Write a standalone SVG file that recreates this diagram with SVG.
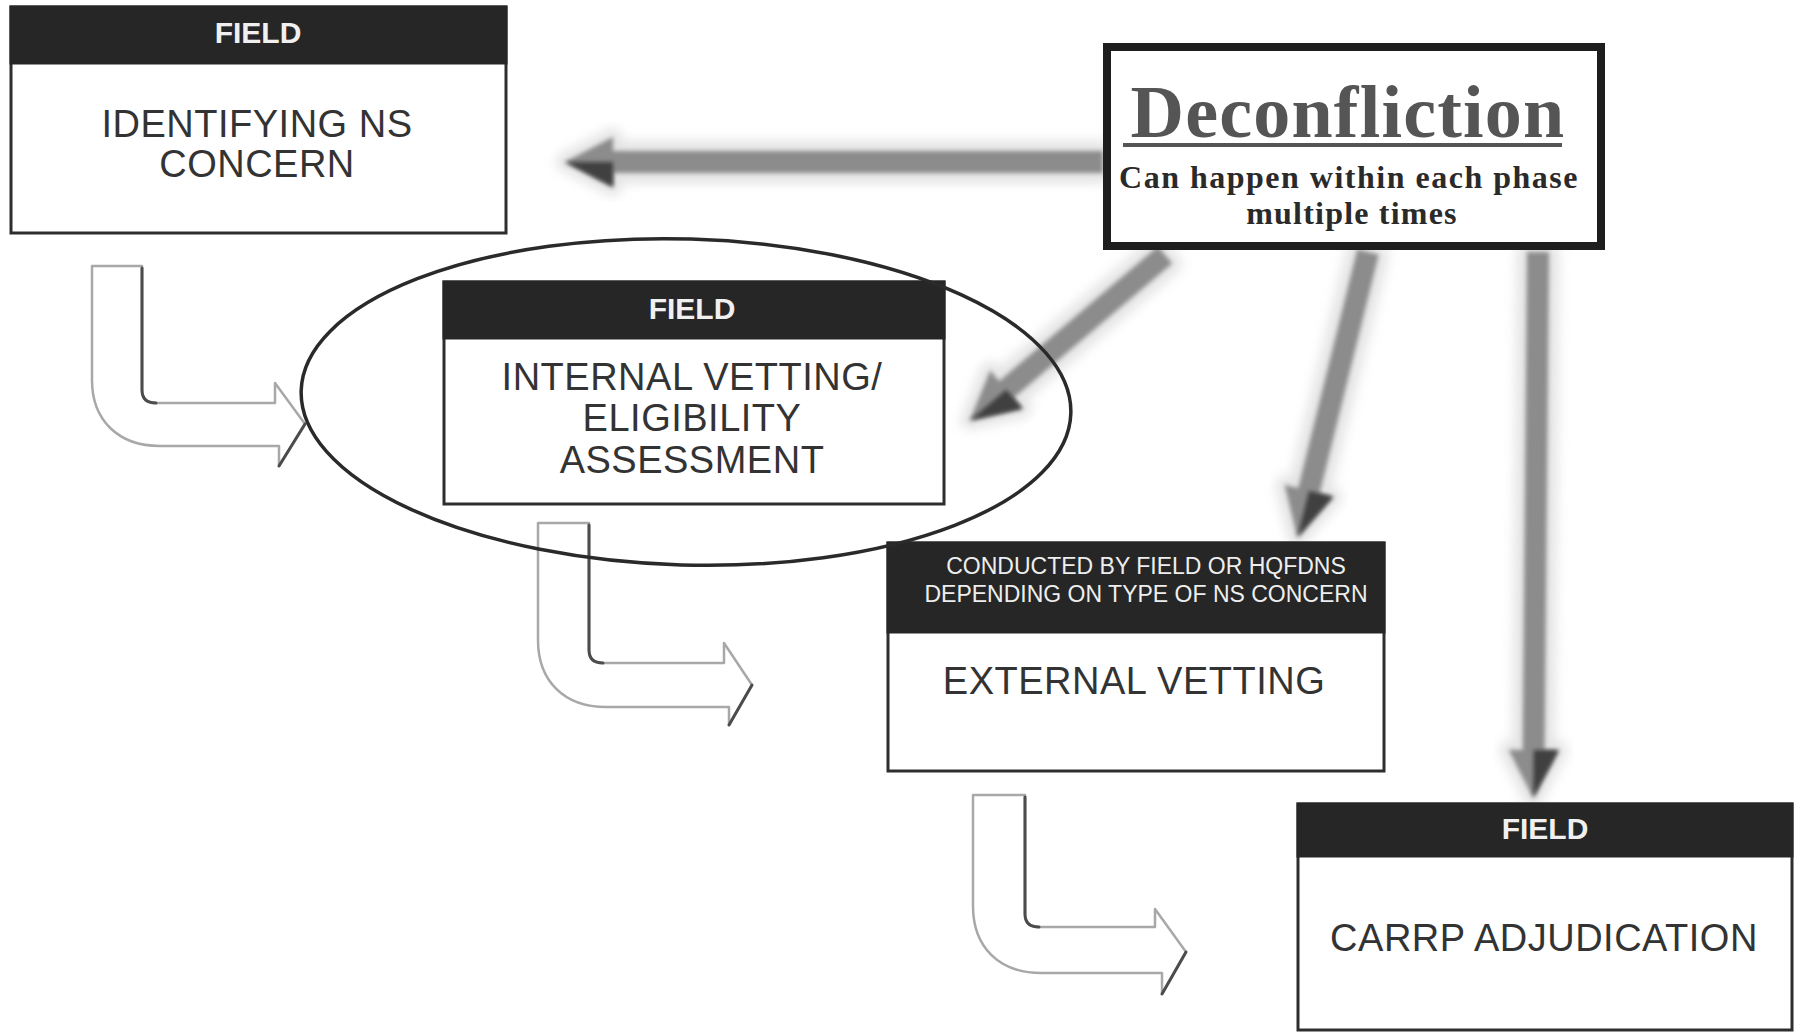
<svg xmlns="http://www.w3.org/2000/svg" width="1796" height="1032" viewBox="0 0 1796 1032">
  <defs>
    <style>
      .box { fill: #ffffff; stroke: #2e2e2e; stroke-width: 3; }
      .hdr { fill: #262626; }
      .hdrtxt { font-family: "Liberation Sans", Arial, sans-serif; font-weight: bold; font-size: 30px; fill: #f0f0f0; text-anchor: middle; }
      .hdrsmall { font-family: "Liberation Sans", Arial, sans-serif; font-size: 23px; fill: #eeeeee; text-anchor: middle; }
      .body { font-family: "Liberation Sans", Arial, sans-serif; font-size: 38px; fill: #333333; text-anchor: middle; letter-spacing: 0.5px; }
      .serif { font-family: "Liberation Serif", "Times New Roman", serif; font-weight: bold; text-anchor: middle; }
      .hollow { fill: #ffffff; stroke: #a8a8a8; stroke-width: 2.5; stroke-linejoin: round; }
      .hollow-dark { fill: none; stroke: #4c4c4c; stroke-width: 3; stroke-linecap: round; }
      .halo { fill: #d8d8d8; stroke: #d8d8d8; stroke-width: 18; stroke-linejoin: round; opacity: 0.7; filter: url(#blurWide); }
      .core { fill: #8c8c8c; filter: url(#blurSoft); }
      .tipshade { fill: #404040; filter: url(#blurSoft); }
    </style>
    <filter id="blurWide" x="-30%" y="-30%" width="160%" height="160%">
      <feGaussianBlur stdDeviation="6"/>
    </filter>
    <filter id="blurSoft" x="-20%" y="-20%" width="140%" height="140%">
      <feGaussianBlur stdDeviation="2.2"/>
    </filter>
  </defs>

  <rect width="1796" height="1032" fill="#ffffff"/>

  <!-- connectors -->
  <g id="connectors">
    <!-- hollow L-shaped flow arrows -->
    <g id="flow-1-2">
      <path class="hollow" d="M92,266 H142 V390 Q142,403 156,403 H275 V383 L305,424 L279,466 V446 H160 C118,446 92,420 92,380 Z"/>
      <path class="hollow-dark" d="M142,268 V390 Q142,403 156,403"/>
      <path class="hollow-dark" d="M305,424 L279,466"/>
    </g>
    <g id="flow-2-3">
      <path class="hollow" d="M538,523 H589 V650 Q589,663 603,663 H724 V643 L752,685 L729,725 V707 H606 C564,707 538,681 538,640 Z"/>
      <path class="hollow-dark" d="M589,525 V650 Q589,663 603,663"/>
      <path class="hollow-dark" d="M752,685 L729,725"/>
    </g>
    <g id="flow-3-4">
      <path class="hollow" d="M973,795 H1025 V914 Q1025,927 1039,927 H1155 V909 L1186,952 L1162,994 V973 H1041 C999,973 973,947 973,906 Z"/>
      <path class="hollow-dark" d="M1025,797 V914 Q1025,927 1039,927"/>
      <path class="hollow-dark" d="M1186,952 L1162,994"/>
    </g>

    <!-- shaded deconfliction arrows -->
    <g id="decon-to-identify" transform="translate(1103,162) rotate(180)">
      <path class="halo" d="M0,-12 H490 V-25 L538,0 L490,25 V12 H0 Z"/>
      <path class="core" d="M0,-11 H490 V-25 L538,0 L490,25 V11 H0 Z"/>
      <path class="tipshade" d="M490,-25 L538,0 L490,0 Z"/>
    </g>
    <g id="decon-to-internal" transform="translate(1165,255) rotate(139.7)">
      <path class="halo" d="M0,-12 H208 V-25 L256,0 L208,25 V12 H0 Z"/>
      <path class="core" d="M0,-11 H208 V-25 L256,0 L208,25 V11 H0 Z"/>
      <path class="tipshade" d="M208,-25 L256,0 L208,0 Z"/>
    </g>
    <g id="decon-to-external" transform="translate(1368,252) rotate(103.9)">
      <path class="halo" d="M0,-12 H246 V-25 L294,0 L246,25 V12 H0 Z"/>
      <path class="core" d="M0,-11 H246 V-25 L294,0 L246,25 V11 H0 Z"/>
      <path class="tipshade" d="M246,-25 L294,0 L246,0 Z"/>
    </g>
    <g id="decon-to-adjudication" transform="translate(1538,252) rotate(90.5)">
      <path class="halo" d="M0,-12 H498 V-25 L546,0 L498,25 V12 H0 Z"/>
      <path class="core" d="M0,-11 H498 V-25 L546,0 L498,25 V11 H0 Z"/>
      <path class="tipshade" d="M498,-25 L546,0 L498,0 Z"/>
    </g>
  </g>

  <!-- nodes -->
  <g id="node-identifying">
    <rect class="box" x="11" y="7" width="495" height="226"/>
    <rect class="hdr" x="9.5" y="5.5" width="498" height="59"/>
    <text class="hdrtxt" x="258" y="43">FIELD</text>
    <text class="body" x="257" y="137">IDENTIFYING NS</text>
    <text class="body" x="257" y="177">CONCERN</text>
  </g>

  <g id="node-internal-vetting">
    <rect class="box" x="444" y="282" width="500" height="222"/>
    <rect class="hdr" x="442.5" y="280.5" width="503" height="59"/>
    <text class="hdrtxt" x="692" y="319">FIELD</text>
    <text class="body" x="692" y="390">INTERNAL VETTING/</text>
    <text class="body" x="692" y="431">ELIGIBILITY</text>
    <text class="body" x="692" y="473">ASSESSMENT</text>
  </g>

  <g id="node-external-vetting">
    <rect class="box" x="888" y="543" width="496" height="228"/>
    <rect class="hdr" x="886.5" y="541.5" width="499" height="92"/>
    <text class="hdrsmall" x="1146" y="574">CONDUCTED BY FIELD OR HQFDNS</text>
    <text class="hdrsmall" x="1146" y="602">DEPENDING ON TYPE OF NS CONCERN</text>
    <text class="body" x="1134" y="694">EXTERNAL VETTING</text>
  </g>

  <g id="node-adjudication">
    <rect class="box" x="1298" y="804" width="494" height="226"/>
    <rect class="hdr" x="1296.5" y="802.5" width="497" height="55"/>
    <text class="hdrtxt" x="1545" y="839">FIELD</text>
    <text class="body" x="1544" y="951">CARRP ADJUDICATION</text>
  </g>

  <g id="node-deconfliction">
    <rect x="1107" y="47" width="494" height="199" fill="#ffffff" stroke="#1e1e1e" stroke-width="8"/>
    <text class="serif" x="1348" y="137" font-size="74" fill="#555555" letter-spacing="1.2">Deconfliction</text>
    <rect x="1123" y="143" width="439" height="4" fill="#555555"/>
    <text class="serif" x="1349" y="188" font-size="32" fill="#2a2a2a" letter-spacing="1.5">Can happen within each phase</text>
    <text class="serif" x="1352" y="224" font-size="32" fill="#2a2a2a" letter-spacing="1.2">multiple times</text>
  </g>

  <!-- highlight ring around the internal vetting step -->
  <g id="highlight">
    <ellipse cx="686" cy="402" rx="385" ry="163" transform="rotate(1.7 686 402)" fill="none" stroke="#2a2a2a" stroke-width="3.5"/>
  </g>
</svg>
